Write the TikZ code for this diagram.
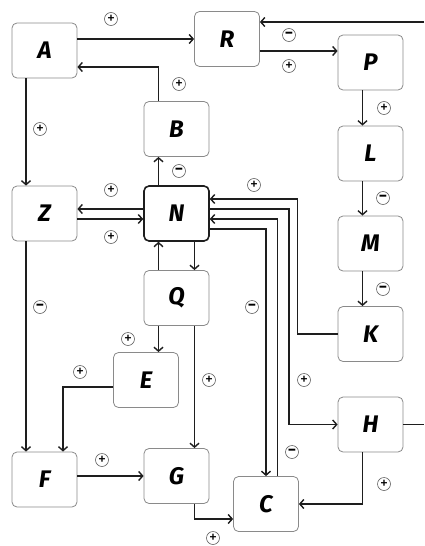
\documentclass[tikz,border=0pt]{standalone}
\usepackage{fontspec}
\setmainfont{Fira Sans}
\usetikzlibrary{arrows.meta,calc}
\definecolor{frame}{HTML}{8A8A8A}
\definecolor{ink}{HTML}{1E1E1E}

\begin{document}
\begin{tikzpicture}[x=1pt,y=-1pt,line width=1.4pt,
  bx/.style={draw=frame,line width=0.8pt,rounded corners=5pt,fill=white,
    minimum width=65pt,minimum height=55pt,inner sep=0pt,
    font=\fontsize{24}{26}\selectfont\bfseries\itshape},
  hub/.style={bx,draw=ink,line width=1.6pt},
  arr/.style={draw=ink,-{Straight Barb[length=4pt,width=9pt]}},
  sg/.style={circle,draw=ink!70,line width=0.6pt,minimum size=13pt,inner sep=0pt,
    font=\fontsize{16}{16}\selectfont}]
  \useasboundingbox (0,0) rectangle (424,546);
  % boxes
  \node[bx] (A) at (44.5,50.5) {A};
  \node[bx] (R) at (227,39) {R};
  \node[bx] (P) at (370.5,62.5) {P};
  \node[bx] (B) at (176.5,129) {B};
  \node[bx] (L) at (370.5,153.5) {L};
  \node[bx] (Z) at (44.5,213.5) {Z};
  \node[hub] (N) at (176.5,213.5) {N};
  \node[bx] (M) at (370.5,243.5) {M};
  \node[bx] (Q) at (176.5,298) {Q};
  \node[bx] (K) at (370.5,334) {K};
  \node[bx] (E) at (146,380) {E};
  \node[bx] (H) at (370.5,424.5) {H};
  \node[bx] (F) at (44.5,479.5) {F};
  \node[bx] (G) at (176.5,476) {G};
  \node[bx] (C) at (266,504) {C};
  \coordinate (rin) at (424,22);
  \coordinate (hout) at (424,424.5);
  \coordinate (rp) at ($(R.east)+(0,12)$);
  \coordinate (qe) at ([xshift=-18pt]Q.south);
  % top part
  \draw[arr] (A.east |- R.west) -- (R.west);
  \draw[arr] (rin) -- (rin -| R.east);
  \draw[arr] (rp) -- (P.west |- rp);
  \draw[arr] ([xshift=-18pt]B.north) |- ([yshift=-16.5pt]A.east);
  \draw[arr] ([xshift=-18pt]N.north) -- ([xshift=-18pt]B.south);
  \draw[arr] ([xshift=-18.5pt]A.south) -- ([xshift=-18.5pt]Z.north);
  \draw[arr] ([xshift=-8pt]P.south) -- ([xshift=-8pt]L.north);
  \draw[arr] ([xshift=-8pt]L.south) -- ([xshift=-8pt]M.north);
  \draw[arr] ([xshift=-8pt]M.south) -- ([xshift=-8pt]K.north);
  % around N
  \draw[arr] ([yshift=4.5pt]N.west) -- ([yshift=4.5pt]Z.east);
  \draw[arr] ([yshift=-5.5pt]Z.east) -- ([yshift=-5.5pt]N.west);
  \draw[arr] ([xshift=-18pt]Q.north) -- ([xshift=-18pt]N.south);
  \draw[arr] ([xshift=18pt]N.south) -- ([xshift=18pt]Q.north);
  \draw[arr] (K.west) -- ++(-40,0) |- ([yshift=14.5pt]N.east);
  \draw[arr] ([yshift=4.5pt]N.east) -- ++(79,0) |- (H.west);
  \draw[arr] ([xshift=11.5pt]C.north) |- ([yshift=-5.5pt]N.east);
  \draw[arr] ([yshift=-15.5pt]N.east) -| (C.north);
  % lower part
  \draw[arr] (qe) -- (qe |- E.north);
  \draw[arr] ([xshift=18pt]Q.south) -- ([xshift=18pt]G.north);
  \draw[arr] ([yshift=-7pt]E.west) -| ([xshift=18.5pt]F.north);
  \draw[arr] ([xshift=-18.5pt]Z.south) -- ([xshift=-18.5pt]F.north);
  \draw[arr] (F.east |- G.west) -- (G.west);
  \draw[arr] ([xshift=18pt]G.south) |- ([yshift=-15pt]C.west);
  \draw[arr] ([xshift=-8pt]H.south) |- (C.east);
  \draw[ink] (H.east) -- (hout);
  % signs
  \foreach \x/\y [count=\i] in {111/19,289/66,179/84,40/129,384/108,111/190,
      111/237,254/185,128/339,80/372,209/380,304/380,102/460,384/484,213/538}
    \node[sg] (sp\i) at (\x,\y) {+};
  \foreach \x/\y [count=\i] in {289/35,179/171,383/198,383/289,40/307,252/307,292/452}
    \node[sg,font=\fontsize{16}{16}\selectfont\bfseries] (sm\i) at (\x,\y) {−};
\end{tikzpicture}
\end{document}
